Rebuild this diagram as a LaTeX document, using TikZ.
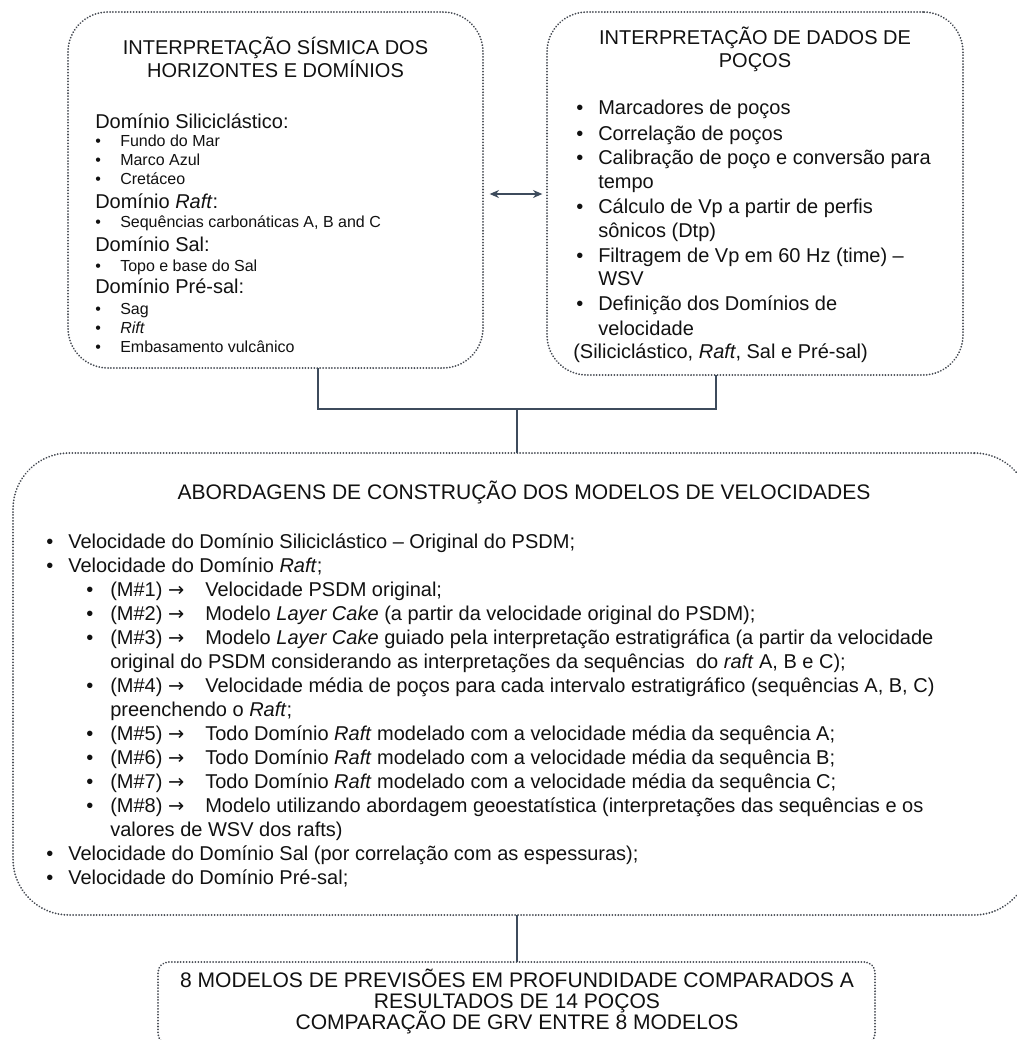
\documentclass[tikz,border=0pt]{standalone}
\usepackage{fontspec}
\setmainfont{Liberation Sans}
\newfontfamily\arrowfont{DejaVu Sans}
\usetikzlibrary{arrows.meta}
\definecolor{bordercol}{HTML}{454A52}
\definecolor{conncol}{HTML}{3D4B5C}
\definecolor{txtcol}{HTML}{111111}
\newcommand\fsz[1]{\fontsize{#1}{#1}\selectfont}
\newcommand\rarr{{\arrowfont\fontsize{14.5}{14.5}\selectfont →}}
\tikzset{
  dotbox/.style={draw=bordercol, line width=1.5pt, line cap=round, dash pattern=on 0.01pt off 2.2pt, inner sep=0pt, outer sep=0pt},
  conn/.style={draw=conncol, line width=1.6pt},
  t15/.style={inner sep=0pt, anchor=base west, text=txtcol, font=\fsz{15}},
  t12/.style={inner sep=0pt, anchor=base west, text=txtcol, font=\fsz{12}},
  c15/.style={inner sep=0pt, anchor=base, text=txtcol, font=\fsz{15}},
  c16/.style={inner sep=0pt, anchor=base, text=txtcol, font=\fsz{15.8}},
}
\begin{document}
\begin{tikzpicture}[x=0.75pt,y=-0.75pt]
\useasboundingbox (0,0) rectangle (1017,1040);
% boxes
\node[dotbox, rounded corners=30pt, minimum width=311.25pt, minimum height=267pt] (b1) at (275.5,190) {};
\node[dotbox, rounded corners=30pt, minimum width=312pt, minimum height=272.25pt] (b2) at (755,193.5) {};
\node[dotbox, rounded corners=42pt, minimum width=762.75pt, minimum height=346.5pt] (b3) at (521.5,684) {};
\node[dotbox, rounded corners=8pt, minimum width=537.75pt, minimum height=61.5pt] (b4) at (516.5,1003) {};
% connectors
\draw[conn, {Stealth[length=7pt,width=6pt]}-{Stealth[length=7pt,width=6pt]}, shorten <=5pt, shorten >=3.5pt] (b1.east |- 0,194) -- (b2.west |- 0,194);
\coordinate (j) at (517,409);
\draw[conn] (b1.south -| 318,0) |- (j);
\draw[conn] (b2.south -| 716,0) |- (j);
\draw[conn] (j) -- (b3.north -| j);
\draw[conn] (b3.south -| 517,0) -- (b4.north -| 517,0);
% box 1
\node[c15] (t1a) at (275.5,54) {INTERPRETAÇÃO SÍSMICA DOS};
\node[c15] (t1b) at (275.5,77) {HORIZONTES E DOMÍNIOS};
\node[t15] (h1) at (95,128) {Domínio Siliciclástico:};
\node[t12] (s1p) at (95,146.5) {•};\node[t12] (s1) at (120,146.5) {Fundo do Mar};
\node[t12] (s2p) at (95,165.5) {•};\node[t12] (s2) at (120,165.5) {Marco Azul};
\node[t12] (s3p) at (95,184.5) {•};\node[t12] (s3) at (120,184.5) {Cretáceo};
\node[t15] (h2) at (95,208) {Domínio \textit{Raft}:};
\node[t12] (s4p) at (95,227) {•};\node[t12] (s4) at (120,227) {Sequências carbonáticas A, B and C};
\node[t15] (h3) at (95,251) {Domínio Sal:};
\node[t12] (s5p) at (95,271) {•};\node[t12] (s5) at (120,271) {Topo e base do Sal};
\node[t15] (h4) at (95,293) {Domínio Pré-sal:};
\node[t12] (s6p) at (95,314) {•};\node[t12] (s6) at (120,314) {Sag};
\node[t12] (s7p) at (95,333) {•};\node[t12] (s7) at (120,333) {\textit{Rift}};
\node[t12] (s8p) at (95,352.5) {•};\node[t12] (s8) at (120,352.5) {Embasamento vulcânico};
% box 2
\node[c15] (t2a) at (755,44) {INTERPRETAÇÃO DE DADOS DE};
\node[c15] (t2b) at (755,67) {POÇOS};
\node[t15] (p1p) at (576,114) {•};\node[t15] (p1) at (598,114) {Marcadores de poços};
\node[t15] (p2p) at (576,140) {•};\node[t15] (p2) at (598,140) {Correlação de poços};
\node[t15] (p3p) at (576,164) {•};\node[t15] (p3) at (598,164) {Calibração de poço e conversão para};
\node[t15] (p3b) at (598,188) {tempo};
\node[t15] (p4p) at (576,213) {•};\node[t15] (p4) at (598,213) {Cálculo de Vp a partir de perfis};
\node[t15] (p4b) at (598,237) {sônicos (Dtp)};
\node[t15] (p5p) at (576,262) {•};\node[t15] (p5) at (598,262) {Filtragem de Vp em 60 Hz (time) –};
\node[t15] (p5b) at (598,285) {WSV};
\node[t15] (p6p) at (576,310) {•};\node[t15] (p6) at (598,310) {Definição dos Domínios de};
\node[t15] (p6b) at (598,335) {velocidade};
\node[t15] (p7) at (573,358) {(Siliciclástico, \textit{Raft}, Sal e Pré-sal)};
% box 3
\node[c16] (t3) at (524,499) {ABORDAGENS DE CONSTRUÇÃO DOS MODELOS DE VELOCIDADES};
\node[t15] (q1p) at (46,548) {•};\node[t15] (q1) at (68,548) {Velocidade do Domínio Siliciclástico – Original do PSDM;};
\node[t15] (q2p) at (46,572) {•};\node[t15] (q2) at (68,572) {Velocidade do Domínio \textit{Raft};};
\node[t15] (m1p) at (86,596) {•};\node[t15] (m1) at (110,596) {(M\#1) \rarr};\node[t15] (m1t) at (205,596) {Velocidade PSDM original;};
\node[t15] (m2p) at (86,620) {•};\node[t15] (m2) at (110,620) {(M\#2) \rarr};\node[t15] (m2t) at (205,620) {Modelo \textit{Layer Cake} (a partir da velocidade original do PSDM);};
\node[t15] (m3p) at (86,644) {•};\node[t15] (m3) at (110,644) {(M\#3) \rarr};\node[t15] (m3t) at (205,644) {Modelo \textit{Layer Cake} guiado pela interpretação estratigráfica (a partir da velocidade};
\node[t15] (m3b) at (110,668) {original do PSDM considerando as interpretações da sequências\ \ do \textit{raft} A, B e C);};
\node[t15] (m4p) at (86,692) {•};\node[t15] (m4) at (110,692) {(M\#4) \rarr};\node[t15] (m4t) at (205,692) {Velocidade média de poços para cada intervalo estratigráfico (sequências A, B, C)};
\node[t15] (m4b) at (110,716) {preenchendo o \textit{Raft};};
\node[t15] (m5p) at (86,740) {•};\node[t15] (m5) at (110,740) {(M\#5) \rarr};\node[t15] (m5t) at (205,740) {Todo Domínio \textit{Raft} modelado com a velocidade média da sequência A;};
\node[t15] (m6p) at (86,764) {•};\node[t15] (m6) at (110,764) {(M\#6) \rarr};\node[t15] (m6t) at (205,764) {Todo Domínio \textit{Raft} modelado com a velocidade média da sequência B;};
\node[t15] (m7p) at (86,788) {•};\node[t15] (m7) at (110,788) {(M\#7) \rarr};\node[t15] (m7t) at (205,788) {Todo Domínio \textit{Raft} modelado com a velocidade média da sequência C;};
\node[t15] (m8p) at (86,812) {•};\node[t15] (m8) at (110,812) {(M\#8) \rarr};\node[t15] (m8t) at (205,812) {Modelo utilizando abordagem geoestatística (interpretações das sequências e os};
\node[t15] (m8b) at (110,836) {valores de WSV dos rafts)};
\node[t15] (q3p) at (46,860) {•};\node[t15] (q3) at (68,860) {Velocidade do Domínio Sal (por correlação com as espessuras);};
\node[t15] (q4p) at (46,884) {•};\node[t15] (q4) at (68,884) {Velocidade do Domínio Pré-sal;};
% box 4
\node[c16] (t4a) at (517,987) {8 MODELOS DE PREVISÕES EM PROFUNDIDADE COMPARADOS A};
\node[c16] (t4b) at (517,1008) {RESULTADOS DE 14 POÇOS};
\node[c16] (t4c) at (517,1029) {COMPARAÇÃO DE GRV ENTRE 8 MODELOS};
\end{tikzpicture}
\end{document}
